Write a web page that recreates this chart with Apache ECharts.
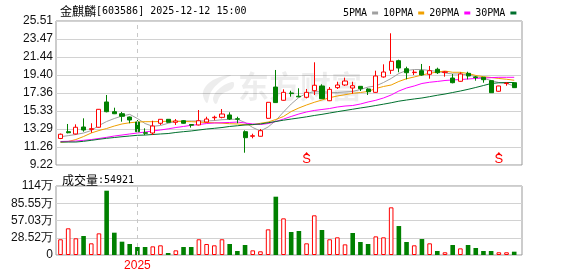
<!DOCTYPE html>
<html><head><meta charset="utf-8">
<script src="https://cdn.jsdelivr.net/npm/echarts@6/dist/echarts.min.js"></script>
<style>html,body{margin:0;padding:0;background:#fff}#c{width:578px;height:276px}</style>
</head><body><div id="c"></div>
<script>
// ---- data (weekly K-line) ----
const categories = ['2024-10-25','2024-11-01','2024-11-08','2024-11-15','2024-11-22','2024-11-29','2024-12-06','2024-12-13','2024-12-20','2024-12-27',
'2025-01-03','2025-01-10','2025-01-17','2025-01-24','2025-01-31','2025-02-07','2025-02-14','2025-02-21','2025-02-28','2025-03-07',
'2025-03-14','2025-03-21','2025-03-28','2025-04-04','2025-04-11','2025-04-18','2025-04-25','2025-05-02','2025-05-09','2025-05-16',
'2025-05-23','2025-05-30','2025-06-06','2025-06-13','2025-06-20','2025-06-27','2025-07-04','2025-07-11','2025-07-18','2025-07-25',
'2025-08-01','2025-08-08','2025-08-15','2025-08-22','2025-08-29','2025-09-05','2025-09-12','2025-09-19','2025-09-26','2025-10-03',
'2025-10-10','2025-10-17','2025-10-24','2025-10-31','2025-11-07','2025-11-14','2025-11-21','2025-11-28','2025-12-05','2025-12-12'];
const opens  = [12.22,12.99,12.73,13.52,13.25,13.49,16.35,15.25,15.02,14.65,14.08,12.87,12.84,13.94,14.39,14.05,14.23,13.80,13.75,14.08,
14.57,14.61,14.88,14.45,12.99,12.47,12.47,14.50,18.04,16.54,17.37,17.00,16.88,17.63,18.16,16.49,17.97,18.27,17.93,18.12,
17.82,17.44,19.18,19.93,21.02,20.11,19.67,19.89,19.48,20.05,19.70,19.06,18.69,19.59,19.18,19.14,18.76,17.56,18.44,18.53];
const closes = [12.70,12.87,13.49,13.18,13.33,15.52,15.25,15.02,14.73,14.31,12.99,12.81,13.63,14.39,14.05,14.20,13.94,13.72,14.23,14.42,
14.62,14.99,14.42,14.40,12.31,12.53,13.10,16.31,16.28,17.44,17.30,16.93,17.44,18.24,16.72,17.78,18.27,18.72,18.19,17.85,
17.51,19.29,19.74,20.95,20.19,19.66,19.72,19.40,19.89,19.66,19.76,18.53,19.52,19.29,19.12,18.87,17.40,18.16,18.48,17.97];
const lows   = [12.15,12.80,12.67,12.99,12.87,13.45,15.18,14.98,14.12,13.94,12.95,12.61,12.61,13.75,14.02,13.75,13.90,13.45,13.70,14.03,
14.27,14.50,14.31,13.94,10.61,12.24,12.45,14.45,16.25,16.50,16.95,16.90,16.76,17.14,16.70,16.45,17.82,18.16,17.29,17.59,
17.14,17.40,19.10,19.52,19.71,18.91,19.40,19.32,18.98,19.52,19.21,18.46,18.65,18.91,18.76,18.53,17.38,17.52,18.19,17.95];
const highs  = [12.78,13.86,13.82,14.50,13.94,15.55,17.14,15.70,15.22,14.70,14.31,13.37,14.23,14.42,14.42,14.42,14.31,13.86,15.44,14.68,
14.80,15.55,15.18,14.68,13.14,12.76,13.29,16.35,19.97,17.78,17.62,17.90,17.82,20.84,18.35,18.04,18.64,19.10,18.64,18.15,
17.90,19.89,20.61,24.12,21.13,20.34,19.97,20.65,20.42,20.23,19.85,19.52,19.71,19.77,19.29,19.18,18.84,18.18,18.58,18.58];
// volume, unit: 万 (10k)
const volumes = [26.0,44.1,27.6,31.4,19.3,35.8,106.3,36.9,22.0,18.2,13.2,13.2,14.3,16.0,3.3,7.7,13.2,13.2,26.0,18.2,
16.0,26.0,18.2,6.6,16.5,7.7,6.1,42.4,96.4,60.6,38.0,39.7,19.3,65.6,41.3,26.0,29.2,17.6,36.4,21.5,
18.2,30.8,29.2,78.8,47.9,21.5,16.0,26.4,19.3,6.6,4.5,16.5,11.0,16.5,11.6,6.6,6.6,4.5,4.5,5.49];
const ma5  = [12.42,12.54,12.67,12.84,13.12,13.69,14.14,14.48,14.76,14.95,14.48,13.91,13.60,13.69,13.94,14.14,14.20,14.20,14.20,14.20,
14.25,14.34,14.39,14.39,14.03,13.46,13.07,13.52,14.25,15.22,16.12,16.86,17.33,17.51,17.51,17.44,17.42,17.48,17.54,17.76,
18.04,18.16,18.55,19.01,19.57,19.91,20.02,20.02,19.91,19.80,19.63,19.52,19.52,19.40,19.23,19.03,18.78,18.55,18.44,18.16];
const ma10 = [11.79,11.88,12.10,12.44,12.84,13.12,13.35,13.63,13.86,14.00,14.08,14.12,14.12,14.14,14.17,14.17,14.14,14.12,14.08,14.03,
14.00,13.95,13.89,13.86,13.78,13.77,13.94,14.08,14.37,14.71,15.27,15.67,16.01,16.31,16.57,16.83,17.03,17.17,17.33,17.42,
17.54,17.87,18.10,18.27,18.67,18.98,19.18,19.40,19.59,19.74,19.85,19.71,19.71,19.57,19.35,19.21,19.12,19.01,18.92,18.81];
const ma20 = [11.88,11.90,11.93,12.01,12.10,12.22,12.35,12.50,12.61,12.73,12.84,12.95,13.07,13.18,13.31,13.46,13.58,13.71,13.80,13.91,
13.97,14.00,14.03,14.08,13.97,13.86,13.80,13.91,14.14,14.42,14.71,14.99,15.22,15.39,15.50,15.61,15.78,15.89,15.95,16.12,
16.35,16.54,16.80,17.14,17.59,17.93,18.16,18.44,18.58,18.67,18.78,18.84,18.89,18.95,19.01,19.06,19.10,19.14,19.14,19.14];
const ma30 = [11.82,11.82,11.82,11.90,12.01,12.13,12.24,12.33,12.42,12.50,12.58,12.61,12.67,12.73,12.78,12.90,12.99,13.07,13.18,13.29,
13.37,13.46,13.58,13.66,13.75,13.80,13.86,14.00,14.14,14.29,14.42,14.54,14.67,14.82,14.95,15.10,15.25,15.39,15.53,15.67,
15.80,15.95,16.10,16.26,16.44,16.57,16.69,16.80,16.95,17.11,17.25,17.42,17.59,17.78,17.99,18.21,18.44,18.52,18.55,18.55];
const priceTickLabels = ['9.22','11.26','13.29','15.33','17.36','19.40','21.44','23.47','25.51'];
const volTickLabels = ['0','28.52万','57.03万','85.55万','114万'];
const volTickValues = [0,28.52,57.04,85.56,114.08];
const yearMarkCats = ['2025-01-03'];
const yearMarkTexts = ['2025'];
const signalCats = ['2025-06-06','2025-11-28'];
const maNames = ['5PMA','10PMA','20PMA','30PMA'];
const lastVolume = 54921;

// ---- styles ----
const MONO = '"DejaVu Sans Mono","Liberation Mono",monospace';
const CJK = '"Noto Sans CJK SC",sans-serif';
const SANS = '"Liberation Sans",Arial,sans-serif';
const UP = '#ff0000', DOWN = '#008000';
const maColors = ['#a0a0a0','#f0a000','#ff00ff','#00702e'];

const priceMin = parseFloat(priceTickLabels[0]);
const priceMax = parseFloat(priceTickLabels[priceTickLabels.length-1]);
const priceInterval = (priceMax - priceMin) / (priceTickLabels.length - 1);
const volMax = volTickValues[volTickValues.length-1];
const volInterval = volTickValues[1];

const candleData = categories.map((c,i)=>[opens[i],closes[i],lows[i],highs[i]]);
const volData = volumes.map((v,i)=>{
  const up = i === 0 ? closes[i] >= opens[i] : closes[i] >= closes[i-1];
  return {value: v, itemStyle: up ? {color:'#fff', borderColor: UP, borderWidth:1} : {color: DOWN, borderColor: DOWN, borderWidth:0}};
});
const maSeries = [ma5, ma10, ma20, ma30].map((arr,k)=>({
  name: maNames[k], type:'line', xAxisIndex:1, yAxisIndex:1, data: arr, symbol:'none',
  lineStyle:{width:1, color: maColors[k]}, itemStyle:{color: maColors[k]}, z:3, silent:true
}));
const dashLine = {
  silent:true, symbol:['none','none'], label:{show:false},
  lineStyle:{type:[4,4], color:'#c8c8c8', width:1},
  data: yearMarkCats.map(c=>({xAxis:c}))
};
const axisLabelStyle = {color:'#111', fontSize:12, fontFamily:SANS, margin:3};
const wmFill = 'rgba(0,0,0,0.07)';

const chart = echarts.init(document.getElementById('c'), null, {renderer:'canvas'});
chart.setOption({
  animation:false,
  backgroundColor:'#fff',
  title:[
    {text:'{c|金麒麟}{m|[603586] 2025-12-12 15:00}', left:55, top:0,
     textStyle:{rich:{c:{fontFamily:CJK,fontSize:12,color:'#000',fontWeight:'normal'},m:{fontFamily:MONO,fontSize:10,color:'#000',fontWeight:'normal'}}}},
    {text:'{c|成交量}{m|:' + lastVolume + '}', left:57, top:169,
     textStyle:{rich:{c:{fontFamily:CJK,fontSize:12,color:'#000',fontWeight:'normal'},m:{fontFamily:MONO,fontSize:10,color:'#000',fontWeight:'normal'}}}}
  ],
  legend:{data:maNames, left:338, top:3, icon:'rect', itemWidth:6, itemHeight:3, itemGap:5, align:'right',
    textStyle:{fontFamily:MONO, fontSize:10, color:'#000'}, selectedMode:false},
  graphic:[
    {type:'text', left:238, top:71, z:1, silent:true,
     style:{text:'东方财富', font:'bold 31px "Noto Sans CJK SC"', fill:wmFill}},
    {type:'polygon', z:1, silent:true,
     shape:{points:[[231,75],[213,80],[203,92],[207,103],[211,92],[220,82]], smooth:0.4},
     style:{fill:wmFill}},
    {type:'polygon', z:1, silent:true,
     shape:{points:[[233,82],[220,88],[213,98],[216,104],[221,95],[233,88]], smooth:0.4},
     style:{fill:wmFill}}
  ],
  grid:[
    {left:56, top:21, width:466, height:144, show:true, borderColor:'#999', borderWidth:1, backgroundColor:'transparent'},
    {left:56.65, top:21, width:461.4, height:144},
    {left:56, top:186, width:466, height:69, show:true, borderColor:'#999', borderWidth:1, backgroundColor:'transparent'},
    {left:56.65, top:186, width:461.4, height:69}
  ],
  xAxis:[
    {gridIndex:0, type:'value', min:0, max:1, show:false},
    {gridIndex:1, type:'category', data:categories, show:false, boundaryGap:true},
    {gridIndex:2, type:'value', min:0, max:1, show:false},
    {gridIndex:3, type:'category', data:categories, boundaryGap:true,
     axisLine:{show:false}, axisTick:{show:false}, splitLine:{show:false},
     axisLabel:{interval:0, color:'#ff0000', fontSize:12, fontFamily:SANS, margin:5,
       formatter:(v)=>{const k = yearMarkCats.indexOf(v); return k>=0 ? yearMarkTexts[k] : '';}}}
  ],
  yAxis:[
    {gridIndex:0, type:'value', min:priceMin, max:priceMax, interval:priceInterval,
     axisLine:{show:false}, axisTick:{show:false},
     splitLine:{show:true, lineStyle:{color:'#d2d2d2', width:1}},
     axisLabel:Object.assign({}, axisLabelStyle, {formatter:(v)=>priceTickLabels[Math.round((v-priceMin)/priceInterval)] || ''})},
    {gridIndex:1, type:'value', min:priceMin, max:priceMax, show:false},
    {gridIndex:2, type:'value', min:0, max:volMax, interval:volInterval,
     axisLine:{show:false}, axisTick:{show:false},
     splitLine:{show:true, lineStyle:{color:'#d2d2d2', width:1}},
     axisLabel:Object.assign({}, axisLabelStyle, {formatter:(v)=>volTickLabels[Math.round(v/volInterval)] || ''})},
    {gridIndex:3, type:'value', min:0, max:volMax, show:false}
  ],
  series:[
    {type:'candlestick', name:'K', xAxisIndex:1, yAxisIndex:1, data:candleData, barWidth:4.6, z:4,
     itemStyle:{color:'#fff', color0:DOWN, borderColor:UP, borderColor0:DOWN, borderWidth:1},
     markLine:dashLine},
    ...maSeries,
    {type:'custom', name:'signal', xAxisIndex:1, yAxisIndex:1, data:signalCats.map(c=>[c]), encode:{x:0}, z:5, silent:true,
     renderItem:(params, api)=>{
       const x = api.coord([api.value(0), priceMin])[0];
       const bottom = params.coordSys.y + params.coordSys.height;
       return {type:'group', children:[
         {type:'polygon', shape:{points:[[x, bottom-13],[x-2.5, bottom-10],[x+2.5, bottom-10]]}, style:{fill:UP}},
         {type:'text', style:{text:'S', x:x, y:bottom-5.5, align:'center', verticalAlign:'middle', fill:UP, font:'13px "Liberation Sans"'}}
       ]};
     }},
    {type:'bar', name:'vol', xAxisIndex:3, yAxisIndex:3, data:volData, barWidth:4.6, markLine:dashLine}
  ]
});
</script></body></html>
